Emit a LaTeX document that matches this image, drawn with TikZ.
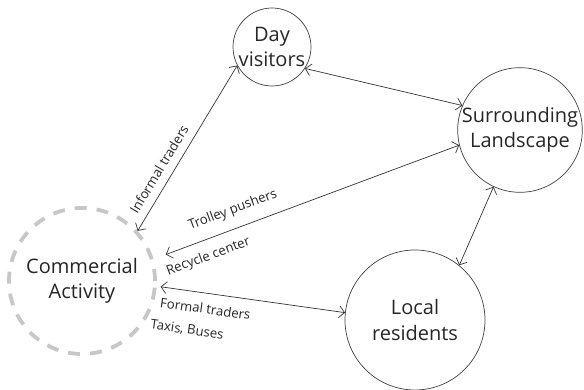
\documentclass[tikz,border=0pt]{standalone}
\usepackage{fontspec}
\setmainfont{Open Sans}
\usetikzlibrary{arrows.meta}

\begin{document}
\begin{tikzpicture}[x=1pt,y=-1pt,
hub/.style={circle,draw=black!75,line width=0.7pt,inner sep=0pt,align=center,text=black!85,font=\fontsize{20}{25}\selectfont},
market/.style={hub,draw=black!22,line width=3.8pt,dash pattern=on 12pt off 10pt},
flowlabel/.style={font=\fontsize{13.2}{15}\selectfont,inner sep=1pt,text=black!85},
arrow/.style={{Straight Barb[length=5.5pt,width=12pt]}-{Straight Barb[length=5.5pt,width=12pt]},line width=0.7pt,draw=black!80} ]

\useasboundingbox (0,0) rectangle (584,390);

\node[market,minimum size=146pt](CA) at (82,281) {Commercial\\Activity};

\node[hub,minimum size=78pt](DV) at (272,47) {Day\\visitors};

\node[hub,minimum size=122pt](SL) at (520,130) {Surrounding\\Landscape};

\node[hub,minimum size=140pt](LR) at (415,320) {Local\\residents};

\draw[arrow] (CA.42) -- node[pos=0.33,sloped,above=7pt,flowlabel] {Informal traders} (DV.208);

\draw[arrow] (DV.327) -- (SL.157);

\draw[arrow,shorten <=13pt] (CA.17) -- node[pos=0.28,sloped,above=10pt,flowlabel] {Trolley pushers} node[pos=0.16,sloped,below=9pt,flowlabel] {Recycle center} (SL.194);

\draw[arrow,shorten <=4pt] (CA.-4) -- node[pos=0.27,sloped,below=9pt,flowlabel] {Formal traders} node[pos=0.19,sloped,below=32pt,flowlabel] {Taxis, Buses} (LR.174);

\draw[arrow] (SL.245) -- (LR.51);

\end{tikzpicture}
\end{document}
